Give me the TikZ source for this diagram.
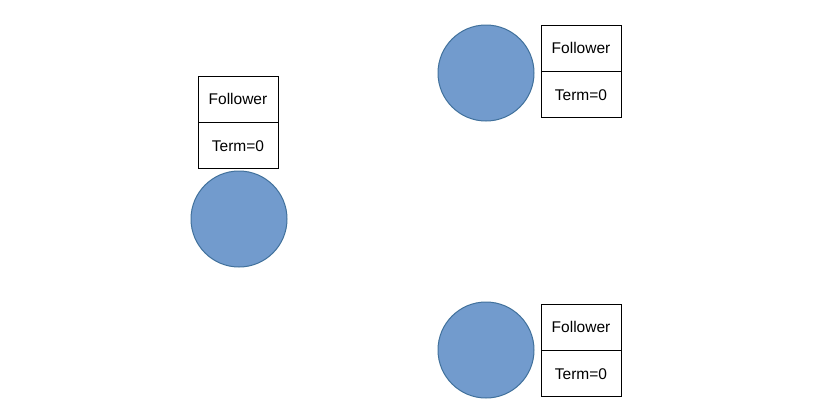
\documentclass[tikz,border=0pt]{standalone}
\usepackage{fontspec}
\setmainfont{Liberation Sans}
\definecolor{nodefill}{RGB}{114,155,205}
\definecolor{nodeline}{RGB}{65,113,156}
\tikzset{
  server/.style={circle, draw=nodeline, fill=nodefill, line width=1pt, minimum size=96pt, inner sep=0pt},
  cell/.style={draw=black, line width=0.8pt, minimum width=80pt, minimum height=46pt, inner sep=0pt, font=\fontsize{15.5}{17}\selectfont}
}
\begin{document}
\begin{tikzpicture}[x=1pt,y=-1pt]
\useasboundingbox (0,0) rectangle (840,418);
\node[server] (s1) at (239,219) {};
\node[server] (s2) at (486,73) {};
\node[server] (s3) at (486,350) {};
\node[cell] (r1) at (238,99) {Follower};
\node[cell, anchor=north] (t1) at (r1.south) {Term=0};
\node[cell] (r2) at (581,48) {Follower};
\node[cell, anchor=north] (t2) at (r2.south) {Term=0};
\node[cell] (r3) at (581,327) {Follower};
\node[cell, anchor=north] (t3) at (r3.south) {Term=0};
\end{tikzpicture}
\end{document}
